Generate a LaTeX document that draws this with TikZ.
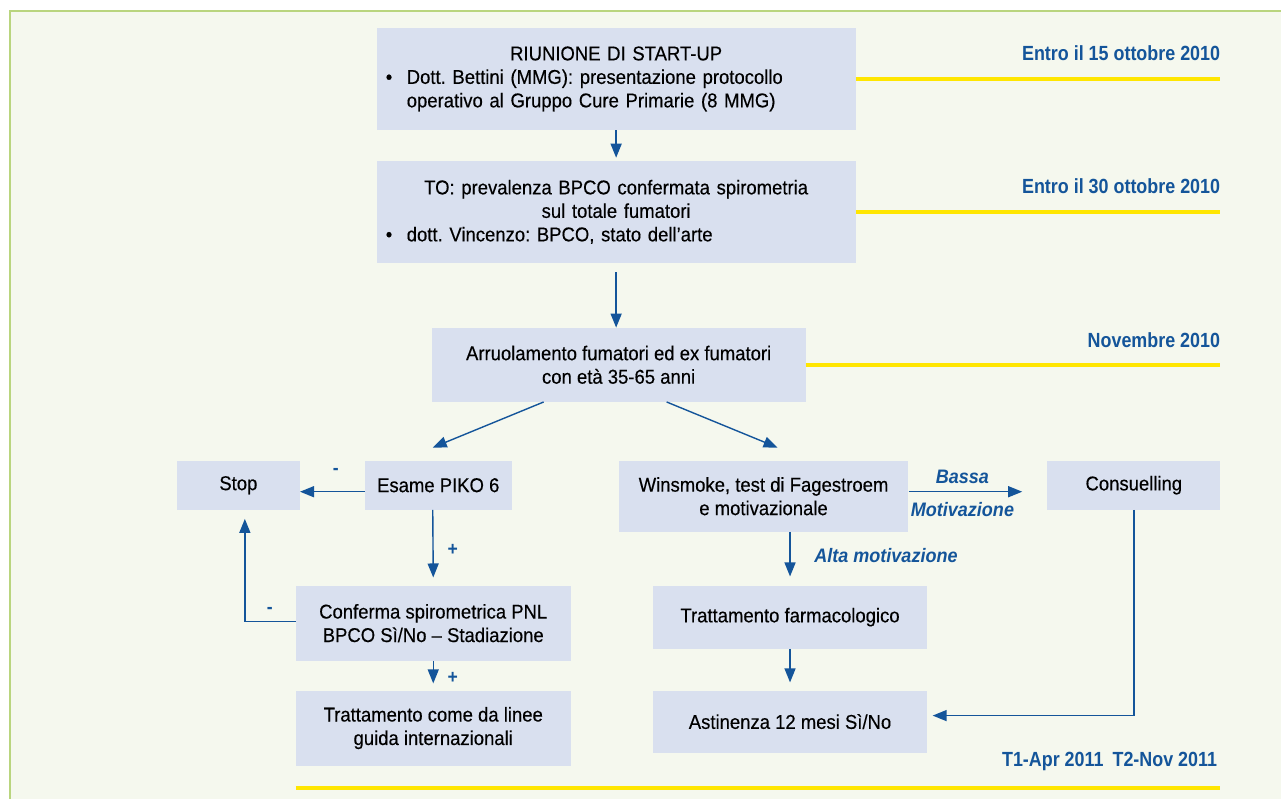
\documentclass[tikz,border=0pt]{standalone}
\usepackage{fontspec}
\setmainfont{Liberation Sans}[FakeStretch=0.925]
\newfontfamily\boxfont{Liberation Sans}[FakeStretch=0.925, FakeBold=0.3]
\newfontfamily\datefont{Liberation Sans}[FakeStretch=0.874]
\usetikzlibrary{arrows.meta,calc}
\definecolor{bgc}{HTML}{F5F8EE}
\definecolor{framec}{HTML}{B9D57E}
\definecolor{boxc}{HTML}{D9E0EF}
\definecolor{blu}{HTML}{14559A}
\definecolor{ylw}{HTML}{FFE600}
\frenchspacing
\begin{document}
\begin{tikzpicture}[x=1pt,y=-1pt,
  box/.style={fill=boxc, inner sep=0pt, align=center, font=\boxfont\fontsize{20}{23.5}\selectfont},
  datelab/.style={text=blu, font=\datefont\fontsize{20.5}{24}\selectfont\bfseries, anchor=east, inner sep=0pt},
  lab/.style={text=blu, font=\fontsize{19.5}{22}\selectfont\bfseries\itshape, inner sep=0pt},
  sign/.style={text=blu, font=\fontsize{19}{22}\selectfont\bfseries, inner sep=0pt},
  arr/.style={draw=blu, line width=1.4pt, -{Triangle[length=14pt,width=11pt]}},
  yl/.style={draw=ylw, line width=4pt}]
\fill[white] (0,0) rectangle (1282,799);
\fill[bgc] (10,11) rectangle (1282,799);
\draw[framec, line width=1.5pt] (10,799) -- (10,11) -- (1282,11);
\useasboundingbox (0,0) rectangle (1282,799);

% boxes
\node[box, minimum width=479pt, minimum height=102pt, text width=461pt, align=left] (b1) at (616.5,79)
 {{\centering RIUNIONE DI START-UP\par}
  \noindent\makebox[21pt][l]{•}\parbox[t]{440pt}{\raggedright Dott. Bettini (MMG): presentazione protocollo\\operativo al Gruppo Cure Primarie (8 MMG)}\par};
\node[box, minimum width=479pt, minimum height=102pt, text width=461pt, align=left] (b2) at (616.5,212)
 {{\centering TO: prevalenza BPCO confermata spirometria\\sul totale fumatori\par}
  \noindent\makebox[21pt][l]{•}dott. Vincenzo: BPCO, stato dell’arte\par};
\node[box, minimum width=374pt, minimum height=74pt] (b3) at (619,365)
 {Arruolamento fumatori ed ex fumatori\\con età 35-65 anni};
\node[box, minimum width=123pt, minimum height=49pt] (stop) at (238.5,485.5) {Stop};
\node[box, minimum width=147pt, minimum height=49pt] (esame) at (438.5,485.5) {Esame PIKO 6};
\node[box, minimum width=275pt, minimum height=75pt] (conf) at (433.5,623.5)
 {Conferma spirometrica PNL\\BPCO Sì/No – Stadiazione};
\node[box, minimum width=275pt, minimum height=75pt] (tratt) at (433.5,728.5)
 {Trattamento come da linee\\guida internazionali};
\node[box, minimum width=290pt, minimum height=71pt] (wins) at (764,496.5)
 {Winsmoke, test di Fagestroem\\e motivazionale};
\node[box, minimum width=173pt, minimum height=49pt] (cons) at (1134.5,485.5) {Consuelling};
\node[box, minimum width=275pt, minimum height=63pt] (farm) at (790.5,617.5) {Trattamento farmacologico};
\node[box, minimum width=275pt, minimum height=62pt] (ast) at (790.5,722) {Astinenza 12 mesi Sì/No};

% dates and yellow lines
\node[datelab] (d1) at (1221,53) {Entro il 15 ottobre 2010};
\node[datelab] (d2) at (1221,186) {Entro il 30 ottobre 2010};
\node[datelab] (d3) at (1221,340) {Novembre 2010};
\node[datelab] (d4) at (1218,762) {T1-Apr 2011\hspace{9pt}T2-Nov 2011};
\coordinate (e1) at (1221,79);
\coordinate (e2) at (1221,212);
\coordinate (e3) at (1221,365);
\coordinate (e4a) at (296,788);
\coordinate (e4b) at (1221,788);
\draw[yl] (b1.east) -- (e1);
\draw[yl] (b2.east) -- (e2);
\draw[yl] (b3.east) -- (e3);
\draw[yl] (e4a) -- (e4b);

% arrows
\coordinate (wbe) at ([yshift=4.5pt]wins.east);
\draw[arr] (b2.north |- b1.south) -- ([yshift=3pt]b2.north);
\draw[arr] ([yshift=-9pt]b2.south) -- (b2.south |- b3.north);
\draw[arr] ([xshift=-75pt]b3.south) -- ([xshift=-5.5pt,yshift=13pt]esame.north);
\draw[arr] ([xshift=48pt]b3.south) -- ([xshift=14pt,yshift=13pt]wins.north);
\draw[arr] ([yshift=-6.5pt]esame.west) -- ([yshift=-6.5pt]stop.east);
\draw[arr] ([xshift=-5.5pt]esame.south) -- ([yshift=8pt]conf.north);
\draw[arr] ([yshift=1.5pt]conf.west) -| ([xshift=6.5pt,yshift=-9pt]stop.south);
\draw[arr] (conf.south) -- ([yshift=7pt]tratt.north);
\draw[arr] (wbe) -- ($(wbe -| cons.west)+(-25,0)$);
\draw[arr] (farm.north |- wins.south) -- ([yshift=9pt]farm.north);
\draw[arr] (farm.south) -- ([yshift=8pt]ast.north);
\draw[arr] (cons.south) |- ([xshift=5pt,yshift=6pt]ast.east);

% labels
\node[sign] (m1) at (336,472) {-};
\node[sign] (p1) at (453,550) {+};
\node[sign] (m2) at (270,611) {-};
\node[sign] (p2) at (453,678) {+};
\node[lab] (l1) at (963,477) {Bassa};
\node[lab] (l2) at (963,510) {Motivazione};
\node[lab] (l3) at (886.5,556) {Alta motivazione};
\end{tikzpicture}
\end{document}
